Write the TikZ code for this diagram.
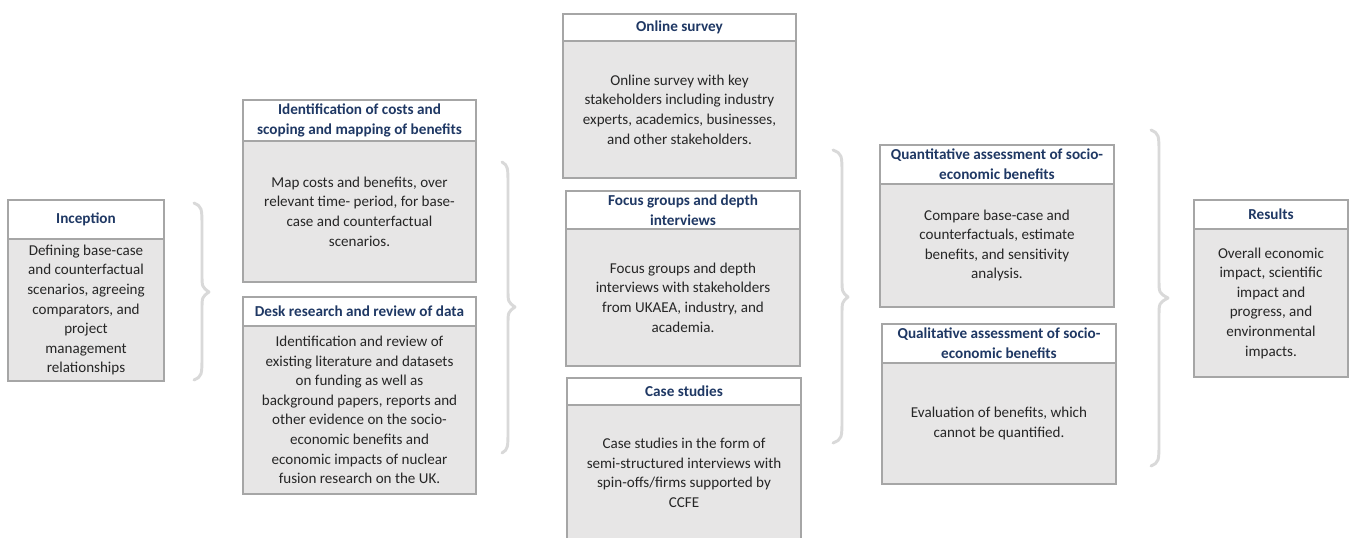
\documentclass[tikz,border=0pt]{standalone}
\usepackage{fontspec}
\setmainfont{Carlito}
\definecolor{navy}{RGB}{31,56,100}
\definecolor{bodyfill}{RGB}{231,230,230}
\definecolor{edge}{RGB}{166,166,166}
\definecolor{bracecol}{RGB}{217,217,217}
\tikzset{
  hdr/.style={draw=edge, line width=1.1pt, fill=white, inner sep=0pt, outer sep=0pt,
    align=center, text=navy, font=\fontsize{11.4}{14.7}\selectfont\bfseries},
  bodybox/.style={draw=edge, line width=1.1pt, fill=bodyfill, inner sep=0pt, outer sep=0pt,
    align=center, text=black!85, font=\fontsize{11.3}{14.7}\selectfont},
  bracestyle/.style={draw=bracecol, line width=2.2pt, line cap=round, line join=round}
}
% #1 name, #2 x, #3 top, #4 width, #5 header h, #6 body h, #7 header, #8 body
\newcommand{\stagebox}[8]{%
  \node[hdr, minimum width=#4*0.75pt, minimum height=#5*0.75pt, anchor=north west] (#1h) at (#2,#3) {#7};
  \node[bodybox, minimum width=#4*0.75pt, minimum height=#6*0.75pt, anchor=north west] (#1b) at (#1h.south west) {#8};
}
% #1 x ends, #2 x vertical, #3 x tip, #4 top, #5 tip y, #6 bottom
\newcommand{\stagebrace}[6]{%
  \draw[bracestyle] (#1,#4) .. controls (#2,#4+4) .. (#2,#4+26) -- (#2,#5-18)
    .. controls (#2,#5-5) .. (#3,#5) .. controls (#2,#5+5) .. (#2,#5+18)
    -- (#2,#6-26) .. controls (#2,#6-4) .. (#1,#6);
}
\begin{document}
\begin{tikzpicture}[x=0.75pt, y=-0.75pt]
\useasboundingbox (0,0) rectangle (1351,538);
\fill[white] (0,0) rectangle (1351,538);

\stagebox{inc}{8}{200}{156}{39}{142}{Inception}
  {Defining base-case\\and counterfactual\\scenarios, agreeing\\comparators, and\\project\\management\\relationships}

\stagebox{idn}{243}{100}{233}{41}{141}{Identification of costs and\\scoping and mapping of benefits}
  {Map costs and benefits, over\\relevant time- period, for base-\\case and counterfactual\\scenarios.}

\stagebox{desk}{243}{297}{233}{29}{168}{Desk research and review of data}
  {Identification and review of\\existing literature and datasets\\on funding as well as\\background papers, reports and\\other evidence on the socio-\\economic benefits and\\economic impacts of nuclear\\fusion research on the UK.}

\stagebox{onl}{563}{14}{233}{27}{137}{Online survey}
  {Online survey with key\\stakeholders including industry\\experts, academics, businesses,\\and other stakeholders.}

\stagebox{foc}{566}{191}{234}{38}{137}{Focus groups and depth\\interviews}
  {Focus groups and depth\\interviews with stakeholders\\from UKAEA,  industry, and\\academia.}

\stagebox{case}{567}{378}{234}{27}{136}{Case studies}
  {Case studies in the form of\\semi-structured interviews with\\spin-offs/firms supported by\\CCFE}

\stagebox{quan}{880}{145}{234}{39}{123}{Quantitative assessment of socio-\\economic benefits}
  {Compare base-case and\\counterfactuals, estimate\\benefits, and sensitivity\\analysis.}

\stagebox{qual}{882}{324}{234}{39}{121}{Qualitative assessment of socio-\\economic benefits}
  {Evaluation of benefits, which\\cannot be quantified.}

\stagebox{res}{1194}{200}{154}{29}{148}{Results}
  {Overall economic\\impact, scientific\\impact and\\progress, and\\environmental\\impacts.}

\stagebrace{194}{202}{209}{203}{292}{380}
\stagebrace{502}{508}{515}{162}{307}{453}
\stagebrace{833}{842}{848}{150}{297}{443}
\stagebrace{1151}{1159}{1168}{130}{298}{466}
\end{tikzpicture}
\end{document}
